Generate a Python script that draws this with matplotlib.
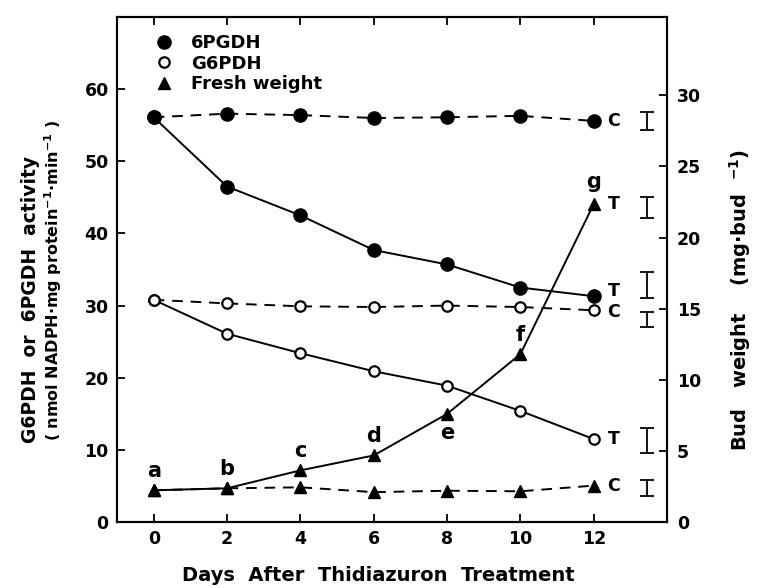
import matplotlib
matplotlib.use("Agg")
import matplotlib.pyplot as plt
from matplotlib.lines import Line2D

plt.rcParams['font.family'] = ['DejaVu Sans']
plt.rcParams['font.weight'] = 'bold'
plt.rcParams['mathtext.default'] = 'bf'

# ---- data ----
days = [0, 2, 4, 6, 8, 10, 12]
pgdh_control = [56.1, 56.6, 56.4, 56.0, 56.1, 56.3, 55.6]
pgdh_treated = [56.1, 46.5, 42.5, 37.7, 35.7, 32.5, 31.3]
g6pdh_control = [30.8, 30.3, 29.9, 29.8, 30.0, 29.8, 29.35]
g6pdh_treated = [30.8, 26.1, 23.4, 20.9, 18.9, 15.4, 11.5]
fw_control = [2.23, 2.37, 2.44, 2.10, 2.20, 2.16, 2.56]
fw_treated = [2.23, 2.37, 3.63, 4.68, 7.60, 11.8, 22.35]
fw_letters = ['a', 'b', 'c', 'd', 'e', 'f', 'g']

# error bars (center, half-range) at the right side
err_left_centers = [55.6, 32.8, 28.1, 11.3]     # 6PGDH C, 6PGDH T, G6PDH C, G6PDH T
err_left_half = [1.3, 1.8, 1.05, 1.75]
err_right_centers = [22.1, 2.4]                 # FW T, FW C
err_right_half = [0.75, 0.55]

x_ticks = [0, 2, 4, 6, 8, 10, 12]
left_ticks = [0, 10, 20, 30, 40, 50, 60]
right_ticks = [0, 5, 10, 15, 20, 25, 30]

fig = plt.figure(figsize=(7.57, 5.88), dpi=100)
ax = fig.add_axes([0.1546, 0.1122, 0.7266, 0.8589])
ax2 = ax.twinx()

lw = 1.4
dash = (5.5, 4)
ms_f = 9.5
ms_o = 7.5
ms_t = 9

# 6PGDH
ax.plot(days, pgdh_treated, '-', color='black', lw=lw, marker='o', ms=ms_f,
        mfc='black', mec='black', zorder=3)
ax.plot(days, pgdh_control, '--', dashes=dash, color='black', lw=lw, marker='o',
        ms=ms_f, mfc='black', mec='black', zorder=3)
# G6PDH
ax.plot(days, g6pdh_treated, '-', color='black', lw=lw, marker='o', ms=ms_o,
        mfc='white', mec='black', mew=1.6, zorder=3)
ax.plot(days, g6pdh_control, '--', dashes=dash, color='black', lw=lw, marker='o',
        ms=ms_o, mfc='white', mec='black', mew=1.6, zorder=3)
# Fresh weight (right axis)
ax2.plot(days, fw_control, '--', dashes=dash, color='black', lw=lw, marker='^',
         ms=ms_t, mfc='black', mec='black', zorder=3)
ax2.plot(days, fw_treated, '-', color='black', lw=lw, marker='^', ms=ms_t,
         mfc='black', mec='black', zorder=3)

# letters on treated fresh weight
offsets = [14, 14, 14, 14, -14, 14, 16]
for d, v, lab, off in zip(days, fw_treated, fw_letters, offsets):
    ax2.annotate(lab, (d, v), xytext=(0, off), textcoords='offset points',
                 ha='center', va='center', fontsize=15, fontweight='bold')

# C / T labels
def endlabel(axis, val, txt, dy=0):
    axis.annotate(txt, (days[-1], val), xytext=(10, dy), textcoords='offset points',
                  ha='left', va='center', fontsize=12.5, fontweight='bold')

endlabel(ax, pgdh_control[-1], 'C')
endlabel(ax, pgdh_treated[-1], 'T', 4)
endlabel(ax, g6pdh_control[-1], 'C', -1)
endlabel(ax, g6pdh_treated[-1], 'T')
endlabel(ax2, fw_treated[-1], 'T')
endlabel(ax2, fw_control[-1], 'C')

# error bars
err_x = 13.45
ax.errorbar([err_x] * len(err_left_centers), err_left_centers, yerr=err_left_half,
            fmt='none', ecolor='black', elinewidth=1.3, capsize=5, capthick=1.3)
ax2.errorbar([err_x] * len(err_right_centers), err_right_centers, yerr=err_right_half,
             fmt='none', ecolor='black', elinewidth=1.3, capsize=5, capthick=1.3)

# axes
ax.set_xlim(-1, 14)
ax.set_ylim(0, 70)
ax2.set_ylim(0.2, 35.5)
ax.set_xticks(x_ticks)
ax.set_yticks(left_ticks)
ax2.set_yticks(right_ticks)
ax.tick_params(axis='x', direction='in', length=6, width=1.3, pad=6, labelsize=12.5, top=True)
ax.tick_params(axis='y', direction='in', length=6, width=1.3, pad=6, labelsize=12.5)
ax2.tick_params(axis='y', direction='in', length=6, width=1.3, pad=7, labelsize=12.5)
for a in (ax, ax2):
    for s in a.spines.values():
        s.set_linewidth(1.5)
    for lab in a.get_xticklabels() + a.get_yticklabels():
        lab.set_fontweight('bold')

# legend
handles = [
    Line2D([], [], ls='none', marker='o', ms=ms_f, mfc='black', mec='black'),
    Line2D([], [], ls='none', marker='o', ms=ms_o, mfc='white', mec='black', mew=1.6),
    Line2D([], [], ls='none', marker='^', ms=ms_t, mfc='black', mec='black'),
]
ax.legend(handles, ['6PGDH', 'G6PDH', 'Fresh weight'], loc='upper left',
          bbox_to_anchor=(0.069, 0.966), frameon=False, borderpad=0, borderaxespad=0,
          handlelength=1.0, handletextpad=1.0, labelspacing=0.14,
          prop={'size': 13, 'weight': 'bold'})

# axis labels
fig.text(0.040, 0.4915, 'G6PDH  or  6PGDH  activity', rotation=90, ha='center',
         va='center', fontsize=13.5, fontweight='bold')
fig.text(0.070, 0.524, '( nmol NADPH·mg protein$^{-1}$·min$^{-1}$ )', rotation=90,
         ha='center', va='center', fontsize=11.5, fontweight='bold')
fig.text(0.978, 0.49, 'Bud   weight    (mg·bud  $^{-1}$)', rotation=90, ha='center',
         va='center', fontsize=14, fontweight='bold')
fig.text(0.4995, 0.021, 'Days  After  Thidiazuron  Treatment', ha='center', va='center',
         fontsize=14, fontweight='bold')

fig.savefig('out.png', dpi=100)
